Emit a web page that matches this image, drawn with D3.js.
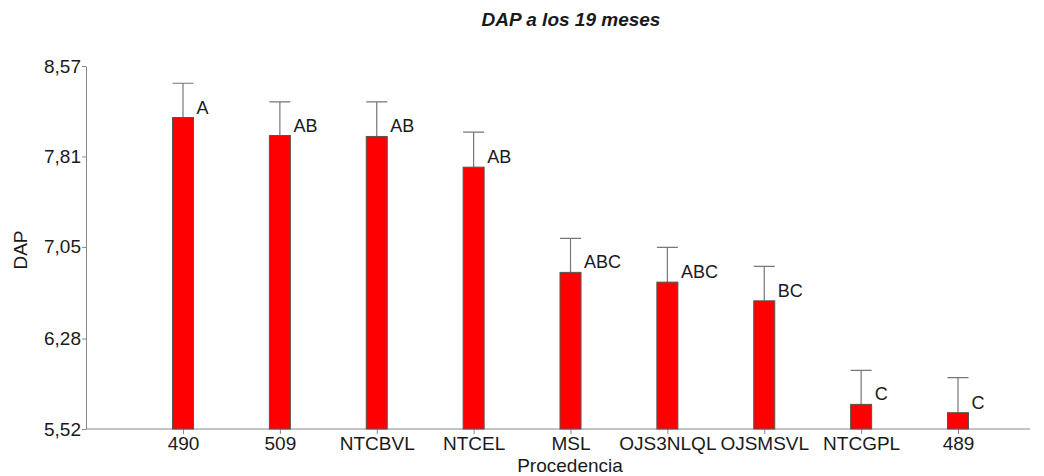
<!DOCTYPE html>
<html>
<head>
<meta charset="utf-8">
<script src="https://cdn.jsdelivr.net/npm/d3@7"></script>
<style>
  body { margin: 0; background: #fff; }
  text { font-family: "Liberation Sans", Arial, sans-serif; fill: #1a1a1a; }
</style>
</head>
<body>
<div id="chart"></div>
<script>
// data
const categories = ["490", "509", "NTCBVL", "NTCEL", "MSL", "OJS3NLQL", "OJSMSVL", "NTCGPL", "489"]
const means = [8.137, 7.986, 7.978, 7.72, 6.836, 6.754, 6.597, 5.727, 5.657]
const upper = [8.425, 8.268, 8.268, 8.014, 7.121, 7.046, 6.886, 6.013, 5.951]
const groups = ["A", "AB", "AB", "AB", "ABC", "ABC", "BC", "C", "C"]
const yTicks = [5.52, 6.28, 7.05, 7.81, 8.57]

const W = 1044, H = 476
let data = categories.map((c, i) => ({cat: c, mean: means[i], up: upper[i], grp: groups[i]}))

let svg = d3.select("#chart").append("svg")
    .attr("width", W)
    .attr("height", H)

let x = d3.scalePoint()
    .domain(categories)
    .range([183, 958])
let y = d3.scaleLinear()
    .domain([5.52, 8.57])
    .range([429, 66])
const barW = 21

// axes
let yAxis = svg.append("g")
    .attr("transform", "translate(86,0)")
    .call(d3.axisLeft(y).tickValues(yTicks).tickSize(4).tickSizeOuter(0)
        .tickFormat(d => d3.format(".2f")(d).replace(".", ",")))
yAxis.selectAll("text").style("font-size", "19px").attr("x", -5)

let xAxis = svg.append("g")
    .attr("transform", "translate(0,429)")
    .call(d3.axisBottom(x).tickSize(5).tickSizeOuter(0))
xAxis.select(".domain").attr("d", "M86,0H1030")
xAxis.selectAll("text").style("font-size", "19px").attr("y", 8)

svg.selectAll(".domain, .tick line").attr("stroke", "#888")

// error bars
svg.selectAll(".err").data(data).join("path")
    .attr("class", "err")
    .attr("fill", "none")
    .attr("stroke", "#777")
    .attr("stroke-width", 1.2)
    .attr("d", d => `M${x(d.cat)},${y(d.mean)}V${y(d.up)}M${x(d.cat) - barW / 2},${y(d.up)}H${x(d.cat) + barW / 2}`)

// bars
svg.selectAll(".bar").data(data).join("rect")
    .attr("class", "bar")
    .attr("x", d => x(d.cat) - barW / 2)
    .attr("y", d => y(d.mean))
    .attr("width", barW)
    .attr("height", d => y(5.52) - y(d.mean))
    .attr("fill", "#ff0000")
    .attr("stroke", "#555")
    .attr("stroke-width", 1)

// group letters
svg.selectAll(".grp").data(data).join("text")
    .attr("class", "grp")
    .attr("x", d => x(d.cat) + barW / 2 + 3)
    .attr("y", d => y(d.mean) - 4)
    .style("font-size", "18px")
    .text(d => d.grp)

// titles
svg.append("text")
    .attr("x", 571).attr("y", 26)
    .attr("text-anchor", "middle")
    .style("font-size", "19px").style("font-weight", "bold").style("font-style", "italic")
    .text("DAP a los 19 meses")

svg.append("text")
    .attr("transform", "translate(27,250)rotate(-90)")
    .attr("text-anchor", "middle")
    .style("font-size", "19px")
    .text("DAP")

svg.append("text")
    .attr("x", 570).attr("y", 472)
    .attr("text-anchor", "middle")
    .style("font-size", "19px")
    .text("Procedencia")
</script>
</body>
</html>
